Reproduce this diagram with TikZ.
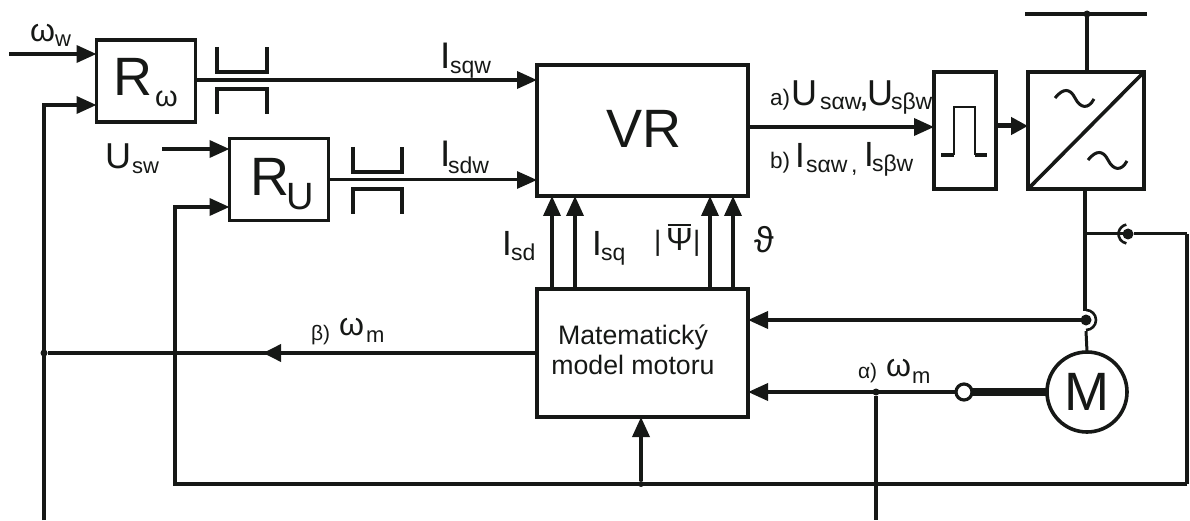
\documentclass[tikz,border=0pt]{standalone}
\usepackage{fontspec}
\setmainfont{Liberation Sans}
\usetikzlibrary{arrows.meta,calc}
\newcommand{\fsz}[1]{\fontsize{#1}{#1}\selectfont}
\definecolor{ink}{HTML}{161816}
\tikzset{
  ln/.style={draw=ink,line width=3.6pt},
  thinln/.style={draw=ink,line width=3pt},
  arr/.style={ln,-{Triangle[length=20pt,width=17pt,fill=ink]}},
  blk/.style={ln,fill=white,inner sep=0pt,outer sep=0pt,anchor=north west,text=ink},
  lab/.style={anchor=base west,inner sep=0pt,outer sep=0pt,text=ink},
  dotn/.style={circle,fill=ink,inner sep=0pt,outer sep=0pt,minimum size=#1},
  dotn/.default=7pt
}
\begin{document}
\begin{tikzpicture}[x=1pt,y=-1pt]
\useasboundingbox (0,0) rectangle (1190,521);
% blocks
\node[blk,minimum width=99pt,minimum height=82pt] (Rw) at (96.5,40) {};
\node[blk,minimum width=99pt,minimum height=82pt] (Ru) at (229.5,138.5) {};
\node[blk,minimum width=211pt,minimum height=131pt] (VR) at (537,65) {};
\node[blk,minimum width=211pt,minimum height=128pt] (MM) at (537,289) {};
\node[blk,minimum width=62pt,minimum height=117pt] (PW) at (934,72) {};
\node[blk,minimum width=116pt,minimum height=117pt] (CV) at (1028,72) {};
\node[circle,draw=ink,line width=3.6pt,fill=white,minimum size=80pt,inner sep=0pt,outer sep=0pt] (MO) at (1087,392) {};
\node[circle,draw=ink,line width=3.2pt,fill=white,minimum size=16pt,inner sep=0pt,outer sep=0pt] (OC) at (964,392) {};
% free ends and junctions
\coordinate (wIn) at (9,54);
\coordinate (uIn) at (162,149);
\coordinate (fb1) at (44,105);
\coordinate (fb1b) at (44,520);
\node[dotn] (jBeta) at (44,353) {};
\coordinate (fb2) at (175,207);
\coordinate (loopBL) at (175,484);
\coordinate (loopBR) at (1187,484);
\coordinate (loopTR) at (1187,234);
\node[dotn=6pt] (jLoop) at (641,484) {};
\node[dotn=7pt] (jAlpha) at (876,392) {};
\coordinate (alphaB) at (876,520);
\node[dotn=11pt] (sI) at (1128,234) {};
\node[dotn=11pt] (sU) at (1086,320) {};
\coordinate (jV) at (1085,234);
\coordinate (vTop) at (1085,189);
\coordinate (vEnd) at (1085,311);
\coordinate (vLow) at (1086,331);
\coordinate (busL) at (1025,14);
\coordinate (busR) at (1147,14);
\node[dotn=7pt] (busJ) at (1087,14) {};
% inputs
\draw[arr] (wIn) -- (wIn -| Rw.west);
\draw[arr] (fb1b) -- (fb1) -- (fb1 -| Rw.west);
\draw[arr] (uIn) -- (uIn -| Ru.west);
\draw[arr] (loopBR) -- (loopBL) -- (fb2) -- (fb2 -| Ru.west);
% controller outputs
\coordinate (y1) at (0,80);
\coordinate (y2) at (0,180);
\draw[arr] (y1 -| Rw.east) -- (y1 -| VR.west);
\draw[thinln,-{Triangle[length=20pt,width=17pt,fill=ink]}] (y2 -| Ru.east) -- (y2 -| VR.west);
% limiter symbols
\draw[ln,line width=4pt] (217,47) -- (217,72) -- (267,72) -- (267,47);
\draw[ln,line width=4pt] (217,114) -- (217,89) -- (267,89) -- (267,114);
\draw[ln,line width=4pt] (353,147) -- (353,172) -- (402,172) -- (402,147);
\draw[ln,line width=4pt] (353,214) -- (353,189) -- (402,189) -- (402,214);
% model to VR
\foreach \nm/\xx in {a/552,b/575,c/710,d/733}{
  \coordinate (mt\nm) at (\xx,289);
  \draw[arr] (mt\nm) -- (mt\nm |- VR.south);
}
% beta speed
\draw[ln] (MM.west |- jBeta) -- (jBeta);
\coordinate (betaTip) at (263,353);
\draw[ln,-{Triangle[length=18pt,width=17pt,fill=ink]}] (MM.west |- jBeta) -- (betaTip);
% VR to PWM to converter
\coordinate (y3) at (0,127);
\draw[arr] (y3 -| VR.east) -- (y3 -| PW.west);
\coordinate (y4) at (0,126);
\draw[ln,line width=5pt,-{Triangle[length=17pt,width=17pt,fill=ink]}] (y4 -| PW.east) -- (y4 -| CV.west);
% pulse
\draw[ln,line width=2.6pt] (954,155) -- (954,107) -- (975,107) -- (975,155);
\draw[ln] (941,155) -- (954,155) (975,155) -- (987,155);
% converter symbol
\draw[ln] (CV.south west) -- (CV.north east);
\draw[thinln] (1055,98) .. controls (1063,88) and (1070,88) .. (1075,98) .. controls (1080,108) and (1088,110) .. (1094,99);
\draw[thinln] (1088,160) .. controls (1096,150) and (1103,150) .. (1108,160) .. controls (1113,170) and (1121,172) .. (1127,161);
% bus
\draw[ln] (busL) -- (busR);
\draw[ln] (busJ) -- (busJ |- CV.north);
% motor feed
\draw[ln] (vTop) -- (vEnd);
\draw[thinln] (vLow) -- (MO.north);
\draw[thinln] (jV) -- (sI);
\draw[thinln] (sI) -- (loopTR);
\draw[ln] (loopTR) -- (loopBR);
\draw[draw=ink,line width=2.6pt] (sI) ++(100:9.5) arc[start angle=100,end angle=260,radius=9.5];
\draw[draw=ink,line width=2.6pt] (sU) ++(90:10) arc[start angle=90,end angle=-90,radius=10];
\draw[arr] (sU) -- (sU -| MM.east);
% speed
\draw[line width=8pt,draw=ink] (OC.east) -- (MO.west);
\draw[arr] (OC.west) -- (OC.west -| MM.east);
\draw[ln] (jAlpha) -- (alphaB);
\draw[arr] (jLoop) -- (jLoop |- MM.south);
% labels
\node[lab,font=\fsz{54}] (tRw) at (113,96) {R};
\node[lab,font=\fsz{29}] (tRwS) at (155,107) {ω};
\node[lab,font=\fsz{54}] (tRu) at (250,196) {R};
\node[lab,font=\fsz{38}] (tRuS) at (286,210) {U};
\node[lab,font=\fsz{54}] (tVR) at (606,148) {VR};
\node[lab,font=\fsz{54}] (tM) at (1064,410) {M};
\node[lab,font=\fsz{32}] (t1) at (30,42) {ω};
\node[lab,font=\fsz{22}] (t2) at (55,47) {w};
\node[lab,font=\fsz{36}] (t3) at (105,169) {U};
\node[lab,font=\fsz{22}] (t4) at (132,174) {sw};
\node[lab,font=\fsz{37}] (t5) at (440,69) {I};
\node[lab,font=\fsz{23}] (t6) at (450,74) {sqw};
\node[lab,font=\fsz{37}] (t7) at (440,167) {I};
\node[lab,font=\fsz{23}] (t8) at (448,174) {sdw};
\node[lab,font=\fsz{35}] (t9) at (502,255) {I};
\node[lab,font=\fsz{23}] (t10) at (511,260) {sd};
\node[lab,font=\fsz{35}] (t11) at (592,255) {I};
\node[lab,font=\fsz{23}] (t12) at (601,260) {sq};
\node[lab,font=\fsz{28}] (t13) at (654,251) {|};
\node[lab,font=\fsz{32}] (t14) at (666,251) {Ψ};
\node[lab,font=\fsz{28}] (t15) at (693,251) {|};
\draw[ln,line width=2.6pt] (667.5,225) -- (690.5,225);
\node[lab,font=\fsz{36}] (t16) at (754,252) {ϑ};
\node[lab,font=\fsz{26.7},align=center,anchor=base] (t17) at (633,344) {Matematický};
\node[lab,font=\fsz{26.7},align=center,anchor=base] (t18) at (633,374) {model motoru};
\node[lab,font=\fsz{21}] (t19) at (311,340) {β)};
\node[lab,font=\fsz{32}] (t20) at (339,335) {ω};
\node[lab,font=\fsz{22}] (t21) at (366,342) {m};
\node[lab,font=\fsz{21}] (t22) at (858,378) {α)};
\node[lab,font=\fsz{32}] (t23) at (886,376) {ω};
\node[lab,font=\fsz{22}] (t24) at (912,383) {m};
\node[lab,font=\fsz{22.5}] (t25) at (770,106) {a)};
\node[lab,font=\fsz{36}] (t26) at (791,106) {U};
\node[lab,font=\fsz{23}] (t27) at (820,110) {sαw};
\node[lab,font=\fsz{36}] (t28) at (859,107) {,};
\node[lab,font=\fsz{36}] (t29) at (867,106) {U};
\node[lab,font=\fsz{23}] (t30) at (891,110) {sβw};
\node[lab,font=\fsz{22.5}] (t31) at (770,169) {b)};
\node[lab,font=\fsz{35}] (t32) at (795,168) {I};
\node[lab,font=\fsz{23}] (t33) at (806,173) {sαw};
\node[lab,font=\fsz{23}] (t34) at (851,173) {,};
\node[lab,font=\fsz{35}] (t35) at (864,167) {I};
\node[lab,font=\fsz{23}] (t36) at (872,172) {sβw};
\end{tikzpicture}
\end{document}
